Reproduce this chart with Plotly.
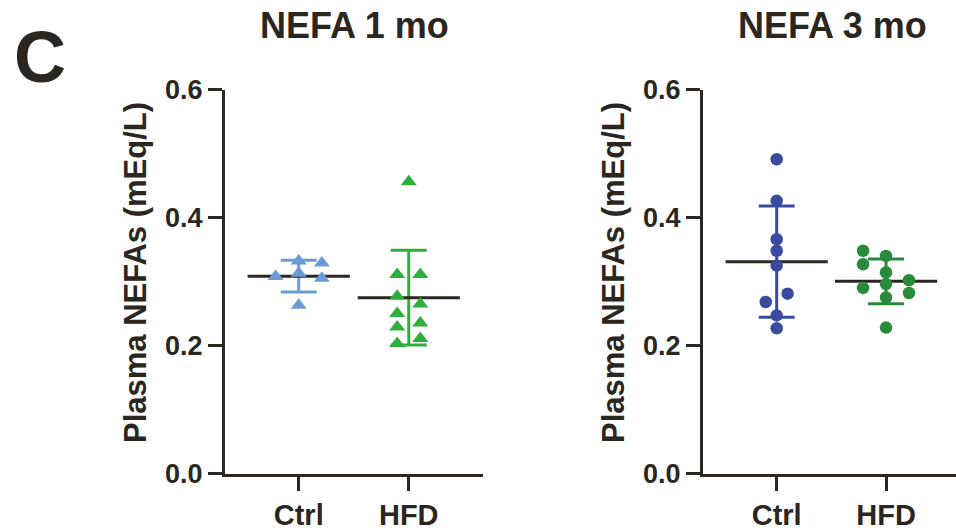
import numpy as np
import plotly.graph_objects as go

# ---------------- data ----------------
categories = ["Ctrl", "HFD"]
panel_titles = ["NEFA 1 mo", "NEFA 3 mo"]
y_title = "Plasma NEFAs (mEq/L)"
y_tickvals = [0.0, 0.2, 0.4, 0.6]
y_ticktext = ["0.0", "0.2", "0.4", "0.6"]

ctrl_1mo = [0.308, 0.332, 0.313, 0.329, 0.305, 0.263]
ctrl_1mo_jitter = [-0.21, 0.0, 0.0, 0.21, 0.21, 0.0]
hfd_1mo = [0.456, 0.311, 0.311, 0.277, 0.265, 0.250, 0.235, 0.229, 0.211, 0.203]
hfd_1mo_jitter = [0.0, -0.105, 0.105, -0.105, 0.105, -0.105, 0.105, -0.105, 0.105, -0.105]

ctrl_3mo = [0.491, 0.426, 0.366, 0.348, 0.325, 0.268, 0.281, 0.247, 0.227]
ctrl_3mo_jitter = [0.0, 0.0, 0.0, 0.0, 0.0, -0.10, 0.10, 0.0, 0.0]
hfd_3mo = [0.348, 0.340, 0.327, 0.314, 0.290, 0.296, 0.302, 0.282, 0.275, 0.228]
hfd_3mo_jitter = [-0.21, 0.0, -0.21, 0.0, -0.21, 0.0, 0.21, 0.21, 0.0, 0.0]

# ---------------- style ----------------
INK = "#2b2620"
FONT = "Liberation Sans, Arial, sans-serif"
W, H = 956, 528

groups = [
    # (panel, category index, values, jitter, color, symbol, size)
    (1, 0, ctrl_1mo, ctrl_1mo_jitter, "#6a9bd8", "triangle-up", 14),
    (1, 1, hfd_1mo, hfd_1mo_jitter, "#2eae3a", "triangle-up", 14),
    (2, 0, ctrl_3mo, ctrl_3mo_jitter, "#3a4a9e", "circle", 12.5),
    (2, 1, hfd_3mo, hfd_3mo_jitter, "#2a8a3c", "circle", 12.5),
]

fig = go.Figure()
for panel, ci, vals, jit, color, symbol, msize in groups:
    xa = "x" if panel == 1 else "x2"
    ya = "y" if panel == 1 else "y2"
    v = np.array(vals)
    mean = v.mean()
    sd = v.std(ddof=1)
    # SD error bar
    fig.add_trace(go.Scatter(
        x=[ci], y=[mean], xaxis=xa, yaxis=ya, mode="markers",
        marker=dict(size=1, opacity=0),
        error_y=dict(type="data", array=[sd], visible=True, width=18,
                     thickness=3, color=color),
        hoverinfo="skip"))
    # mean line
    fig.add_trace(go.Scatter(
        x=[ci], y=[mean], xaxis=xa, yaxis=ya, mode="markers",
        marker=dict(symbol="line-ew", size=73, color=INK,
                    line=dict(width=3, color=INK)),
        hoverinfo="skip"))
    # individual points
    fig.add_trace(go.Scatter(
        x=[ci + j for j in jit], y=vals, xaxis=xa, yaxis=ya, mode="markers",
        marker=dict(symbol=symbol, size=msize, color=color, line=dict(width=0))))

axis_common = dict(
    showline=True, linecolor=INK, linewidth=3,
    ticks="outside", tickcolor=INK, tickwidth=3, ticklen=14,
    showgrid=False, zeroline=False, automargin=False,
)
xfont = dict(family=FONT, size=29, color=INK, weight="bold")
yfont = dict(family=FONT, size=27, color=INK, weight="bold")

y_dom = [1 - 473.5 / H, 1 - 89.5 / H]
fig.update_layout(
    width=W, height=H,
    margin=dict(l=0, r=0, t=0, b=0, autoexpand=False),
    paper_bgcolor="white", plot_bgcolor="white",
    showlegend=False,
    xaxis=dict(domain=[225 / W, 483 / W], range=[-0.67, 1.675], anchor="y",
               tickvals=[0, 1], ticktext=categories, tickfont=xfont, **axis_common),
    yaxis=dict(domain=y_dom, range=[0, 0.6], anchor="x",
               tickvals=y_tickvals, ticktext=y_ticktext, tickfont=yfont, **axis_common),
    xaxis2=dict(domain=[703 / W, 1.0], range=[-0.674, 1.64], anchor="y2",
                tickvals=[0, 1], ticktext=categories, tickfont=xfont, **axis_common),
    yaxis2=dict(domain=y_dom, range=[0, 0.6], anchor="x2",
                tickvals=y_tickvals, ticktext=y_ticktext, tickfont=yfont, **axis_common),
)

annotations = [
    dict(text="C", x=12 / W, y=1 - 57 / H, xanchor="left", yanchor="middle",
         font=dict(family=FONT, size=72, color=INK, weight="bold")),
]
for i, axis_x in enumerate([225, 703]):
    annotations.append(dict(text=panel_titles[i], x=(axis_x + 129) / W, y=1 - 26 / H,
                            xanchor="center", yanchor="middle",
                            font=dict(family=FONT, size=36, color=INK, weight="bold")))
    annotations.append(dict(text=y_title, x=(axis_x - 90) / W, y=1 - 273 / H,
                            xanchor="center", yanchor="middle", textangle=-90,
                            font=dict(family=FONT, size=31, color=INK, weight="bold")))
for a in annotations:
    a.update(xref="paper", yref="paper", showarrow=False)
fig.update_layout(annotations=annotations)

fig.write_html("out.html")
